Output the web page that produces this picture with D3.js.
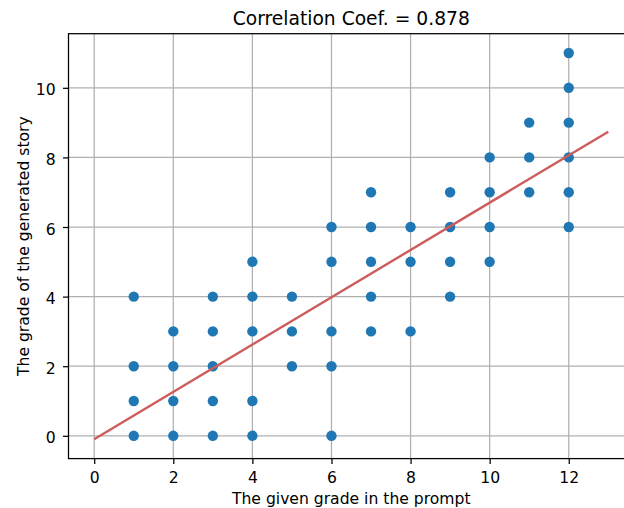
<!DOCTYPE html>
<html>
<head>
<meta charset="utf-8">
<script src="https://cdn.jsdelivr.net/npm/d3@7"></script>
<style>
  body { margin: 0; background: #fff; }
  svg { display: block; font-family: "DejaVu Sans", sans-serif; }
</style>
</head>
<body>
<div id="chart"></div>
<script>
// Scatter points: given grade (x) and the generated story's grade (y)
const givenGrade = [
  1, 1, 1, 1,
  2, 2, 2, 2,
  3, 3, 3, 3, 3,
  4, 4, 4, 4, 4,
  5, 5, 5,
  6, 6, 6, 6, 6,
  7, 7, 7, 7, 7,
  8, 8, 8,
  9, 9, 9, 9,
  10, 10, 10, 10,
  11, 11, 11,
  12, 12, 12, 12, 12, 12
];
const storyGrade = [
  4, 2, 1, 0,
  3, 2, 1, 0,
  4, 3, 2, 1, 0,
  5, 4, 3, 1, 0,
  4, 3, 2,
  6, 5, 3, 2, 0,
  7, 6, 5, 4, 3,
  6, 5, 3,
  7, 6, 5, 4,
  8, 7, 6, 5,
  9, 8, 7,
  11, 10, 9, 8, 7, 6
];

// Fitted line endpoints
const fitX = [0, 13];
const fitY = [-0.1, 8.74];

const xTicks = [0, 2, 4, 6, 8, 10, 12];
const yTicks = [0, 2, 4, 6, 8, 10];

const title = 'Correlation Coef. = 0.878';
const xLabel = 'The given grade in the prompt';
const yLabel = 'The grade of the generated story';

const W = 624, H = 508;
const plotLeft = 68.5, plotRight = 634, plotTop = 33.7, plotBottom = 458.6;
const FONT = 15.6;   // tick + axis label size (px)

const svg = d3.select('#chart').append('svg')
  .attr('width', W)
  .attr('height', H);

const x = d3.scaleLinear().domain([-0.65, 13.65]).range([plotLeft, plotRight]);
const y = d3.scaleLinear().domain([-0.655, 11.555]).range([plotBottom, plotTop]);

// grid
svg.append('g')
  .selectAll('line')
  .data(xTicks)
  .enter().append('line')
  .attr('x1', d => x(d)).attr('x2', d => x(d))
  .attr('y1', plotTop).attr('y2', plotBottom)
  .attr('stroke', '#b0b0b0').attr('stroke-width', 1.25);

svg.append('g')
  .selectAll('line')
  .data(yTicks)
  .enter().append('line')
  .attr('x1', plotLeft).attr('x2', plotRight)
  .attr('y1', d => y(d)).attr('y2', d => y(d))
  .attr('stroke', '#b0b0b0').attr('stroke-width', 1.25);

// points
const pts = givenGrade.map((g, i) => ({ gx: g, gy: storyGrade[i] }));
svg.append('g')
  .selectAll('circle')
  .data(pts)
  .enter().append('circle')
  .attr('cx', d => x(d.gx))
  .attr('cy', d => y(d.gy))
  .attr('r', 5.2)
  .attr('fill', '#1f77b4');

// fit line
svg.append('line')
  .attr('x1', x(fitX[0])).attr('y1', y(fitY[0]))
  .attr('x2', x(fitX[1])).attr('y2', y(fitY[1]))
  .attr('stroke', '#cd5c5c')
  .attr('stroke-width', 2.4);

// axes
const xAxis = d3.axisBottom(x).tickValues(xTicks).tickSize(5.5).tickPadding(8.1);
const yAxis = d3.axisLeft(y).tickValues(yTicks).tickSize(5.5).tickPadding(7.3);

const gx = svg.append('g')
  .attr('transform', `translate(0,${plotBottom})`)
  .call(xAxis);
const gy = svg.append('g')
  .attr('transform', `translate(${plotLeft},0)`)
  .call(yAxis);

[gx, gy].forEach(g => {
  g.select('.domain').remove();
  g.selectAll('.tick line').attr('stroke', '#000').attr('stroke-width', 1.25);
  g.selectAll('.tick text')
    .attr('fill', '#000')
    .style('font-size', FONT + 'px')
    .style('font-family', '"DejaVu Sans", sans-serif');
});
gx.selectAll('.tick text').attr('dy', '0em').attr('y', 483.3 - plotBottom);
gy.selectAll('.tick text').attr('dy', '0.45em');

// spines (right one falls outside the picture)
svg.append('rect')
  .attr('x', plotLeft).attr('y', plotTop)
  .attr('width', plotRight - plotLeft).attr('height', plotBottom - plotTop)
  .attr('fill', 'none')
  .attr('stroke', '#000')
  .attr('stroke-width', 1.25);

// texts
svg.append('text')
  .attr('x', (plotLeft + plotRight) / 2)
  .attr('y', 25)
  .attr('text-anchor', 'middle')
  .style('font-size', '18.7px')
  .text(title);

svg.append('text')
  .attr('x', (plotLeft + plotRight) / 2)
  .attr('y', 504)
  .attr('text-anchor', 'middle')
  .style('font-size', FONT + 'px')
  .text(xLabel);

svg.append('text')
  .attr('transform', `translate(28.8,${(plotTop + plotBottom) / 2}) rotate(-90)`)
  .attr('text-anchor', 'middle')
  .style('font-size', FONT + 'px')
  .text(yLabel);
</script>
</body>
</html>
